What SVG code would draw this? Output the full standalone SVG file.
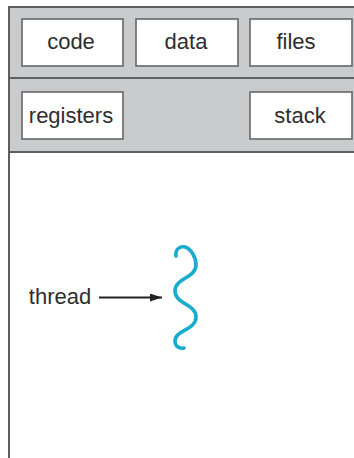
<svg xmlns="http://www.w3.org/2000/svg" width="354" height="458" viewBox="0 0 354 458">
  <style>
    .band { fill: #c9cbcc; }
    .rule { stroke: #5e5f60; stroke-width: 2; fill: none; }
    .box { fill: #ffffff; stroke: #666768; stroke-width: 1.6; }
    .lbl { font-family: "Liberation Sans", Arial, sans-serif; font-size: 22px; fill: #2e2e2e; text-anchor: middle; }
    .conn { stroke: #222222; stroke-width: 1.8; fill: none; }
    .wave { stroke: #1aaccc; stroke-width: 3.6; fill: none; stroke-linecap: round; }
  </style>
  <defs>
    <marker id="arrowhead" viewBox="0 0 12 8" refX="12" refY="4" markerWidth="12" markerHeight="8" markerUnits="userSpaceOnUse" orient="auto">
      <path d="M0,0 L12,4 L0,8 Z" fill="#222222"/>
    </marker>
  </defs>

  <!-- process frame -->
  <rect x="0" y="0" width="354" height="458" fill="#ffffff"/>
  <rect class="band" x="10" y="8" width="344" height="144"/>
  <rect x="10" y="152" width="344" height="306" fill="#ffffff"/>
  <line class="rule" x1="9" y1="7" x2="354" y2="7"/>
  <line class="rule" x1="9" y1="6" x2="9" y2="458"/>
  <line class="rule" x1="10" y1="78" x2="354" y2="78"/>
  <line class="rule" x1="10" y1="152" x2="354" y2="152"/>

  <!-- shared resources -->
  <g id="code">
    <rect class="box" x="22" y="19" width="101" height="47"/>
    <text class="lbl" x="71" y="49">code</text>
  </g>
  <g id="data">
    <rect class="box" x="136" y="19" width="102" height="47"/>
    <text class="lbl" x="186" y="49">data</text>
  </g>
  <g id="files">
    <rect class="box" x="250" y="19" width="102" height="47"/>
    <text class="lbl" x="296" y="49">files</text>
  </g>

  <!-- per-thread state -->
  <g id="registers">
    <rect class="box" x="22" y="92" width="101" height="47"/>
    <text class="lbl" x="71" y="123">registers</text>
  </g>
  <g id="stack">
    <rect class="box" x="250" y="92" width="102" height="47"/>
    <text class="lbl" x="300" y="123">stack</text>
  </g>

  <!-- thread -->
  <g id="thread-label">
    <text class="lbl" x="60" y="304">thread</text>
  </g>
  <g id="thread">
    <path class="wave" d="M176,256 C175,249 180,246 185,247 C191,249 196,257 196,265 C196,278 175,278 175,291 C175,304 196,304 196,317 C196,330 175,330 175,341 C175,346 179,349 184,348"/>
  </g>

  <!-- connectors -->
  <g id="connectors">
    <line class="conn" x1="99" y1="297.5" x2="162" y2="297.5" marker-end="url(#arrowhead)"/>
  </g>
</svg>
